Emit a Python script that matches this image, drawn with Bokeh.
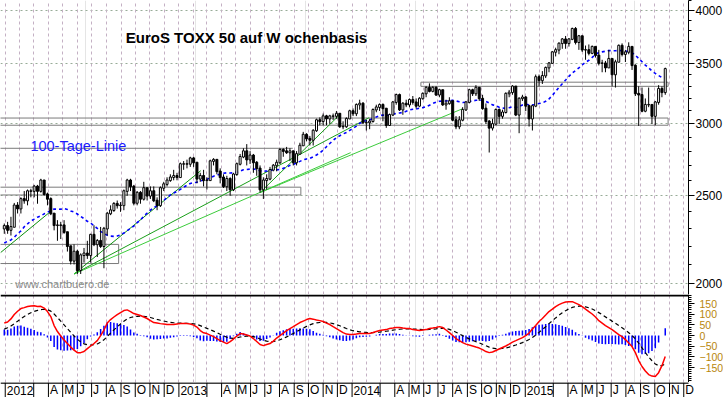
import numpy as np
import pandas as pd
from bokeh.plotting import figure
from bokeh.layouts import column
from bokeh.models import FixedTicker, Range1d, Label, Span, Grid, NumeralTickFormatter, ColumnDataSource
from bokeh.embed import file_html
from bokeh.resources import INLINE
from bokeh.core.properties import value

# ---------------- data (weekly, Friday dates from 2011-12-30) ----------------
first_open = 2300
c11 = [2316]
h11 = [2330]
l11 = [2270]
c12 = [2292,2310,2440,2420,2480,2470,2530,2530,2560,2530,2600,2510,2480,2390,2320,2320,2320,2280,2200,2120,2170,2070,2150,2160,2150,2265,
       2210,2230,2200,2300,2390,2410,2450,2440,2440,2530,2600,2560,2455,2520,2480,2550,2500,2530,2470,2440,2550,2575,2600,2620,2630,2620]
h12 = [2340,2370,2455,2460,2490,2530,2540,2545,2570,2570,2610,2600,2520,2490,2380,2350,2340,2350,2280,2200,2210,2180,2160,2190,2230,2270,
       2320,2240,2310,2310,2400,2440,2460,2470,2460,2540,2610,2610,2570,2530,2530,2590,2550,2560,2560,2490,2560,2590,2620,2640,2670,2650]
l12 = [2270,2260,2310,2390,2390,2450,2440,2490,2490,2450,2520,2500,2440,2380,2290,2230,2240,2270,2170,2100,2100,2050,2050,2110,2130,2110,
       2200,2140,2190,2080,2260,2380,2400,2420,2400,2410,2500,2530,2440,2440,2450,2470,2470,2480,2460,2410,2430,2530,2560,2590,2600,2600]
c13 = [2710,2710,2710,2750,2720,2610,2630,2600,2600,2730,2740,2660,2620,2560,2610,2540,2640,2710,2760,2800,2740,2770,2720,2680,2540,2600,
       2610,2670,2700,2720,2810,2800,2790,2800,2720,2780,2840,2920,2890,2880,2950,3030,3020,3060,3040,3060,3060,3080,2980,2980,3040,3100]
h13 = [2720,2730,2740,2760,2760,2720,2650,2670,2620,2740,2750,2740,2680,2640,2630,2620,2650,2720,2780,2820,2850,2800,2780,2730,2700,2620,
       2640,2690,2710,2740,2820,2820,2830,2820,2800,2800,2860,2940,2930,2910,2960,3040,3050,3080,3070,3070,3080,3100,3080,3020,3050,3110]
l13 = [2640,2670,2680,2690,2690,2580,2590,2560,2540,2600,2700,2640,2580,2550,2530,2500,2530,2630,2700,2750,2700,2710,2650,2630,2520,2480,
       2540,2600,2660,2660,2710,2760,2780,2730,2700,2700,2780,2850,2870,2840,2840,2940,2990,2990,2990,3000,3030,3040,2970,2960,2970,3040]
c14 = [3080,3150,3160,3010,3010,3020,3110,3130,3150,3120,2990,3070,3170,3230,3110,3160,3150,3190,3170,3140,3200,3240,3290,3260,3290,3230,
       3270,3150,3160,3180,3030,2980,3030,3110,3170,3270,3240,3290,3200,3120,3020,2970,3000,3110,3060,3090,3240,3250,3300,3070,3200,3210]
h14 = [3120,3160,3190,3170,3030,3040,3120,3150,3160,3160,3120,3080,3180,3240,3240,3170,3190,3200,3220,3200,3210,3250,3300,3325,3300,3300,
       3280,3270,3190,3210,3180,3060,3060,3130,3180,3280,3280,3310,3290,3230,3160,3030,3040,3120,3120,3110,3250,3270,3310,3300,3210,3230]
l14 = [3060,3060,3110,3000,2950,2960,3010,3090,3100,3020,2970,2990,3060,3150,3100,3070,3130,3130,3150,3120,3130,3190,3210,3250,3250,3220,
       3210,3140,3110,3150,3020,2960,2960,3020,3100,3160,3220,3220,3180,3110,3000,2790,2950,2990,3000,3040,3080,3210,3230,3060,2930,3180]
c15 = [3140,3040,3140,3380,3350,3390,3460,3500,3600,3620,3680,3720,3680,3720,3820,3690,3750,3620,3620,3590,3650,3570,3500,3500,3460,3540,
       3400,3510,3660,3580,3600,3650,3480,3240,3230,3100,3150,3150,3060,3170,3280,3250,3450]
h15 = [3220,3150,3150,3400,3400,3430,3470,3510,3610,3640,3690,3730,3750,3730,3830,3836,3760,3740,3660,3670,3660,3640,3620,3530,3520,3620,
       3440,3530,3670,3680,3620,3690,3640,3490,3300,3290,3200,3290,3150,3180,3310,3300,3460]
l15 = [3100,2980,2950,3130,3300,3320,3370,3420,3500,3560,3580,3630,3630,3650,3710,3670,3620,3600,3530,3570,3580,3550,3480,3420,3420,3460,
       3300,3290,3520,3560,3510,3580,3440,3220,2985,3090,3090,3130,3000,2990,3150,3210,3230]

# closes of the 19 weeks before the first bar (for the 100-day / 20-week average)
ma_warmup = [2100,2160,2130,2030,2150,1990,2180,2200,2330,2290,2440,2270,2290,2180,2120,2360,2310,2210,2300]
ma_weeks = 20

# MACD line (one value per week)
macd_vals = [
    58.6, 63.8, 78, 98.5, 114, 126.6, 131, 136, 139, 140,
    136, 137, 129, 112.6, 89, 47, 19, -2, -21, -37.5,
    -54, -68, -80, -80, -75, -61, -49, -37.5, -23.5, 0,
    26, 58.6, 75, 87, 98.5, 108, 117, 120.5, 112.6, 103,
    98.5, 94, 87, 80, 70, 61, 58.6, 56, 54, 51.6,
    51.6, 51.6, 54, 56, 56, 56, 54, 49, 40, 23.5,
    13, 9.4, 2.3, -4.7, -14, -23.5, -30.5, -37.5, -28, -16.4,
    -2.3, 9.4, 7, 2.3, -2.3, -14, -28, -42, -47, -42,
    -37.5, -26, -11.7, 0, 11.7, 23.5, 33, 42, 51.6, 61,
    68, 75, 80, 77, 72.7, 70, 65.7, 58.6, 51.6, 42,
    33, 23.5, 14, 7, 4.7, 4.7, 7, 9.4, 9.4, 9.4,
    9.4, 14, 18.8, 23.5, 26, 28, 33, 35, 37.5, 37.5,
    35, 33, 33, 28, 26, 23.5, 26, 28, 33, 35,
    37.5, 42, 37.5, 26, 14, 0, -14, -23.5, -33, -40,
    -44.6, -49, -54, -58.6, -65.7, -75, -80, -77, -70, -63,
    -56, -49, -40, -30.5, -23.5, -16.4, -9.4, 0, 11.7, 30.5,
    47, 65.7, 80, 96, 112.6, 124, 136, 145, 152, 157,
    159, 159, 152, 145, 136, 124, 112.6, 101, 87, 70,
    58.6, 47, 37.5, 28, 16.4, 4.7, -4.7, -18.8, -35, -51.6,
    -80, -117, -145, -166, -183, -190, -192, -174, -141, -98]
signal_seed = 23.0
signal_weeks = 9

# support / resistance boxes
box_left = ["2011-12-01", "2014-05-26", "2011-12-01", "2011-12-01"]
box_right = ["2015-10-29", "2015-10-29", "2013-09-15", "2012-08-27"]
box_bottom = [2990, 3300, 2505, 2105]
box_top = [3045, 3335, 2555, 2210]
level_x = ["2011-12-01", "2013-08-29"]
level_y = 2820

# trend lines
tl_x0 = ["2011-12-22", "2012-05-25", "2012-05-25", "2012-05-25", "2013-06-21", "2013-06-21"]
tl_y0 = [2164, 2050, 2050, 2050, 2520, 2520]
tl_x1 = ["2012-04-05", "2013-02-16", "2014-02-06", "2013-12-29", "2013-12-08", "2014-08-22"]
tl_y1 = [2401, 2664, 3048, 2789, 3078, 3118]
tl_col = ["#0a8f0a", "#0a8f0a", "#1a9f1a", "#3ccc3c", "#1a9f1a", "#3ccc3c"]

price_ticks = [2000, 2500, 3000, 3500, 4000]
macd_ticks = [-150, -100, -50, 0, 50, 100, 150]
month_letters = "JFMAMJJASOND"

# ---------------- derived ----------------
DAY = 86400000.0
def ms(d):
    return pd.Timestamp(d).value / 1e6

closes = c11 + c12 + c13 + c14 + c15
highs = h11 + h12 + h13 + h14 + h15
lows = l11 + l12 + l13 + l14 + l15
n = min(len(closes), len(highs), len(lows))
closes, highs, lows = closes[:n], highs[:n], lows[:n]
dates = pd.date_range("2011-12-30", periods=n, freq="7D")
xs = [ms(d) for d in dates]
opens = [first_open] + closes[:-1]
hi = [max(h, o, c) for h, o, c in zip(highs, opens, closes)]
lo = [min(l, o, c) for l, o, c in zip(lows, opens, closes)]
btop = [max(o, c) + 2 for o, c in zip(opens, closes)]
bbot = [min(o, c) - 2 for o, c in zip(opens, closes)]
fill = ["white" if c >= o else "black" for o, c in zip(opens, closes)]

allc = ma_warmup + closes
ma = pd.Series(allc, dtype=float).rolling(ma_weeks).mean().tolist()[len(ma_warmup):]

nm = min(len(macd_vals), n)
mx = xs[:nm]
macd = macd_vals[:nm]
a9 = 2 / (signal_weeks + 1)
sg = signal_seed
sig = []
for m in macd:
    sg += a9 * (m - sg)
    sig.append(sg)
hist = [m - s for m, s in zip(macd, sig)]

months = pd.date_range("2011-12-01", "2015-12-01", freq="MS")
sep_ms = [ms(m) for m in months if m.month != 2]
grid_ms = [ms(m) for m in months]
lab_x, lab_t = [], []
for m in months:
    if m.year < 2012 or m.month in (2, 3):
        continue
    lab_x.append(ms(m))
    lab_t.append(str(m.year) if m.month == 1 else month_letters[m.month - 1])

FW = 688
x_start, x_end = ms("2011-12-22"), ms("2015-12-11")
xr = Range1d(x_start, x_end)
# label row is as wide as the whole page, on the same scale
px_ms = (x_end - x_start) / FW
xr3 = Range1d(x_start, x_end + 35 * px_ms)
FONT = "Liberation Sans"

def base_fig(h, yr, xrange=xr, fw=FW, **kw):
    return figure(frame_width=fw, frame_height=h, x_range=xrange, y_range=yr,
                  x_axis_location=None, toolbar_location=None, output_backend="svg",
                  min_border_left=0, min_border_right=0, min_border_top=0, min_border_bottom=0,
                  outline_line_color=None, background_fill_color="white",
                  border_fill_color="white", **kw)

# ---------------- price panel ----------------
p1 = base_fig(294, Range1d(1946, 4103), y_axis_type="log", y_axis_location="right")
ax = p1.yaxis[0]
ax.ticker = FixedTicker(ticks=price_ticks, minor_ticks=list(range(1900, 4200, 100)))
ax.formatter = NumeralTickFormatter(format="0")
ax.major_label_text_font = FONT
ax.major_label_text_font_size = "12px"
ax.major_label_text_color = "black"
ax.major_tick_in = 0
ax.major_tick_out = 6
ax.minor_tick_in = 0
ax.minor_tick_out = 3
ax.major_label_standoff = 1
ax.axis_line_color = "black"
p1.ygrid.grid_line_color = "#98ac98"
p1.ygrid.grid_line_dash = "2 3"
p1.add_layout(Grid(dimension=0, ticker=FixedTicker(ticks=grid_ms),
                   grid_line_color="#c4b0c4", grid_line_dash="3 3"))

p1.quad(left=[ms(d) for d in box_left], right=[ms(d) for d in box_right],
        bottom=box_bottom, top=box_top, fill_color=None, line_color="#7a7a7a", line_width=1)
p1.line(x=[ms(d) for d in level_x], y=[level_y, level_y], line_color="#7a7a7a", line_width=1)

p1.segment(x0=[ms(d) for d in tl_x0], y0=tl_y0, x1=[ms(d) for d in tl_x1], y1=tl_y1,
           line_color=tl_col, line_width=1)

p1.line(x=xs, y=ma, line_color="#0000ff", line_width=1.6, line_dash="3 3")

src = ColumnDataSource(dict(x=xs, hi=hi, lo=lo, top=btop, bot=bbot, fill=fill))
p1.segment(x0="x", y0="lo", x1="x", y1="hi", source=src, line_color="black", line_width=1)
p1.vbar(x="x", width=4.2 * DAY, top="top", bottom="bot", source=src,
        fill_color="fill", line_color="black", line_width=1)

p1.add_layout(Label(x=ms("2012-09-11"), y=3735, text="EuroS TOXX 50 auf W ochenbasis",
                    text_font=FONT, text_font_size="15px", text_font_style="bold",
                    text_color="black", text_baseline="middle"))
p1.add_layout(Label(x=ms("2012-02-23"), y=2835, text="100-Tage-Linie",
                    text_font=FONT, text_font_size="14.5px", text_color="#1a1aff",
                    text_baseline="middle"))
p1.add_layout(Label(x=ms("2012-01-22"), y=1997, text="www.chartbuero.de",
                    text_font=FONT, text_font_size="11px", text_color="#8a8a8a",
                    text_baseline="middle"))

# ---------------- MACD panel ----------------
p2 = base_fig(88, Range1d(-220, 192.5), y_axis_location="right")
bx = p2.yaxis[0]
bx.ticker = FixedTicker(ticks=macd_ticks, minor_ticks=list(range(-220, 200, 10)))
bx.major_label_text_font = FONT
bx.major_label_text_font_size = "10.5px"
bx.major_label_text_color = "#b8860b"
bx.major_tick_in = 0
bx.major_tick_out = 6
bx.minor_tick_in = 0
bx.minor_tick_out = 3
bx.major_label_standoff = 5
bx.axis_line_color = "black"
p2.ygrid.visible = False
p2.add_layout(Grid(dimension=0, ticker=FixedTicker(ticks=grid_ms),
                   grid_line_color="#c4b0c4", grid_line_dash="3 3"))
p2.add_layout(Span(location=188, dimension="width", line_color="black", line_width=2))
p2.vbar(x=mx, width=3.2 * DAY, top=hist, bottom=0, fill_color="#0000ff", line_color=None)
p2.line(x=mx, y=sig, line_color="black", line_width=1.2, line_dash="4 3")
p2.line(x=mx, y=macd, line_color="#ff0000", line_width=1.5)

# ---------------- month label row ----------------
p3 = base_fig(15, Range1d(0, 1), xrange=xr3, fw=FW + 35, y_axis_location=None)
p3.xgrid.visible = False
p3.ygrid.visible = False
p3.line(x=[x_start, x_end], y=[0.97, 0.97], line_color="black", line_width=1.5)
p3.segment(x0=sep_ms, y0=[0] * len(sep_ms), x1=sep_ms, y1=[1] * len(sep_ms),
           line_color="black", line_width=1)
p3.text(x=lab_x, y=[0.48] * len(lab_x), text=lab_t, x_offset=1.5,
        text_align="left", text_baseline="middle",
        text_font=value(FONT), text_font_size="12px", text_color="black")

layout = column(p1, p2, p3, spacing=0)
open("out.html", "w").write(file_html(layout, INLINE))
